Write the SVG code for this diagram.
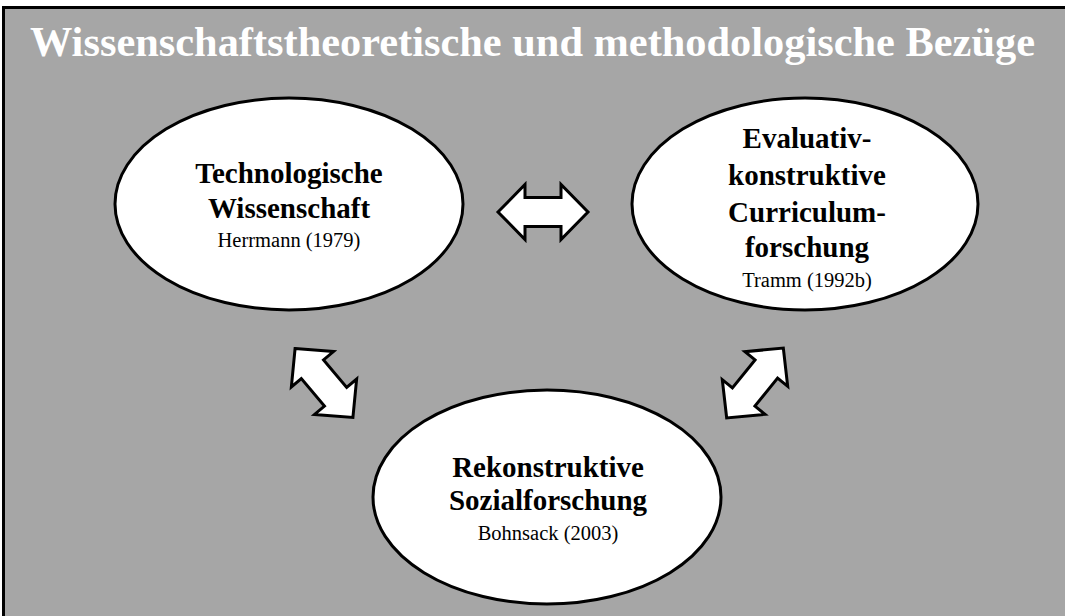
<svg xmlns="http://www.w3.org/2000/svg" width="1065" height="616" viewBox="0 0 1065 616">
  <style>
    .node { fill: #ffffff; stroke: #000000; stroke-width: 3; }
    .arrow { fill: #ffffff; stroke: #000000; stroke-width: 3; stroke-linejoin: miter; }
    .title { font-family: "Liberation Serif", "Times New Roman", serif; font-weight: bold; font-size: 42px; fill: #ffffff; }
    .label { font-family: "Liberation Serif", "Times New Roman", serif; font-weight: bold; font-size: 29px; fill: #000000; text-anchor: middle; }
    .cite { font-family: "Liberation Serif", "Times New Roman", serif; font-size: 20.5px; fill: #000000; text-anchor: middle; }
  </style>
  <defs>
    <path id="dblarrow" d="M-45,0 L-18,-27.5 L-18,-14.5 L18,-14.5 L18,-27.5 L45,0 L18,27.5 L18,14.5 L-18,14.5 L-18,27.5 Z"/>
  </defs>
  <rect x="0" y="0" width="1065" height="616" fill="#ffffff"/>
  <rect id="frame" x="3.5" y="7.5" width="1070" height="620" fill="#a6a6a6" stroke="#000000" stroke-width="3"/>
  <text class="title" x="30" y="56" textLength="1005" lengthAdjust="spacingAndGlyphs">Wissenschaftstheoretische und methodologische Bezüge</text>

  <g id="connectors">
    <use href="#dblarrow" class="arrow" transform="translate(543,212)"/>
    <use href="#dblarrow" class="arrow" transform="translate(324,383) rotate(50)"/>
    <use href="#dblarrow" class="arrow" transform="translate(755,383) rotate(-51)"/>
  </g>

  <g id="node-technologische">
    <ellipse class="node" cx="289" cy="204" rx="174" ry="106"/>
    <text class="label" x="289" y="183">Technologische</text>
    <text class="label" x="289" y="218">Wissenschaft</text>
    <text class="cite" x="289" y="247">Herrmann (1979)</text>
  </g>

  <g id="node-evaluativ">
    <ellipse class="node" cx="805" cy="204" rx="173" ry="106"/>
    <text class="label" x="807" y="148">Evaluativ-</text>
    <text class="label" x="807" y="185">konstruktive</text>
    <text class="label" x="807" y="222">Curriculum-</text>
    <text class="label" x="807" y="257">forschung</text>
    <text class="cite" x="807" y="287">Tramm (1992b)</text>
  </g>

  <g id="node-rekonstruktiv">
    <ellipse class="node" cx="547" cy="497" rx="174" ry="107"/>
    <text class="label" x="548" y="477">Rekonstruktive</text>
    <text class="label" x="548" y="510">Sozialforschung</text>
    <text class="cite" x="548" y="540">Bohnsack (2003)</text>
  </g>
</svg>
